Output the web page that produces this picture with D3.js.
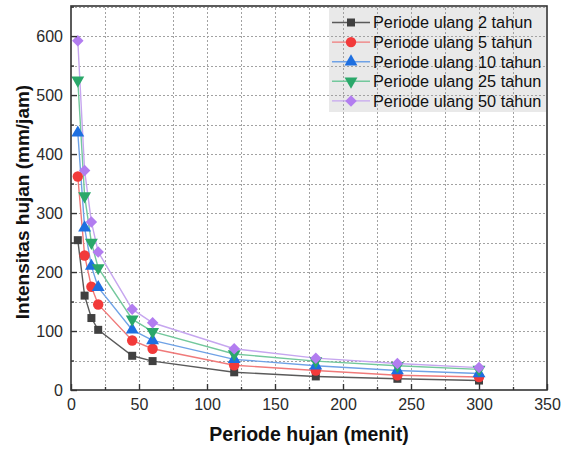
<!DOCTYPE html>
<html>
<head>
<meta charset="utf-8">
<script src="https://cdn.jsdelivr.net/npm/d3@7"></script>
<style>
  body { margin: 0; background: #fff; }
  svg { display: block; font-family: "Liberation Sans", Arial, sans-serif; }
</style>
</head>
<body>
<svg id="svg" width="565" height="450"></svg>
<script>
// durasi hujan (menit)
const durations = [5, 10, 15, 20, 45, 60, 120, 180, 240, 300];

const seriesNames = [
  "Periode ulang 2 tahun",
  "Periode ulang 5 tahun",
  "Periode ulang 10 tahun",
  "Periode ulang 25 tahun",
  "Periode ulang 50 tahun"
];

const pu2  = [254, 160, 122, 102, 58, 49, 30, 23, 19, 16];
const pu5  = [362, 228, 175, 145, 84, 70, 42, 33, 25, 22];
const pu10 = [436, 275, 210, 174, 102, 84, 52, 41, 33, 28];
const pu25 = [525, 329, 250, 207, 120, 99, 61, 49, 41, 35];
const pu50 = [592, 372, 285, 234, 137, 114, 70, 54, 45, 38];

const xTicks = [0, 50, 100, 150, 200, 250, 300, 350];
const yTicks = [0, 100, 200, 300, 400, 500, 600];

const allSeries = [pu2, pu5, pu10, pu25, pu50];
const markerColors = ["#404040", "#f23a3a", "#1e6fe0", "#2aa86a", "#b27df0"];
const lineColors   = ["#5a5a5a", "#f07a7a", "#6fa2e6", "#73c89c", "#c6a6ef"];
const symbols = ["square", "circle", "triangle", "triangleDown", "diamond"];

const margin = { left: 71, top: 6, right: 18, bottom: 60 };
const W = 565, H = 450;
const svg = d3.select("#svg");

const x = d3.scaleLinear().domain([0, 350]).range([margin.left, W - margin.right]);
const y = d3.scaleLinear().domain([0, 651]).range([H - margin.bottom, margin.top]);
const snap = v => Math.round(v) + 0.5;

// legend background under the grid
svg.append("rect")
  .attr("x", 329).attr("y", 7).attr("width", 217).attr("height", 105)
  .attr("fill", "#e9e9e9");

// grid (garis putus-putus)
const grid = svg.append("g").attr("stroke", "#a2a2a2").attr("stroke-width", 1)
  .attr("stroke-dasharray", "2,2");
grid.selectAll("line.gx").data(d3.range(25, 350, 25)).join("line")
  .attr("class", "gx")
  .attr("x1", d => snap(x(d))).attr("x2", d => snap(x(d)))
  .attr("y1", y.range()[0]).attr("y2", y.range()[1]);
grid.selectAll("line.gy").data(d3.range(50, 651, 50)).join("line")
  .attr("class", "gy")
  .attr("x1", x.range()[0]).attr("x2", x.range()[1])
  .attr("y1", d => snap(y(d))).attr("y2", d => snap(y(d)));

function symbolPath(k) {
  const s = symbols[k];
  if (s === "square") return d3.symbol(d3.symbolSquare, 64)();
  if (s === "circle") return d3.symbol(d3.symbolCircle, 85)();
  if (s === "triangle") return d3.symbol(d3.symbolTriangle, 72)();
  if (s === "triangleDown") return d3.symbol(d3.symbolTriangle, 72)();
  return d3.symbol(d3.symbolSquare, 66)();
}
function symbolRotate(k) {
  if (symbols[k] === "triangleDown") return " rotate(180)";
  if (symbols[k] === "diamond") return " rotate(45)";
  return "";
}

const line = d3.line().x(d => x(d[0])).y(d => y(d[1]));

allSeries.forEach((vals, k) => {
  const pts = durations.map((d, i) => [d, vals[i]]);
  svg.append("path").datum(pts)
    .attr("d", line).attr("fill", "none")
    .attr("stroke", lineColors[k]).attr("stroke-width", 1.4);
});
allSeries.forEach((vals, k) => {
  const pts = durations.map((d, i) => [d, vals[i]]);
  svg.append("g").selectAll("path").data(pts).join("path")
    .attr("d", symbolPath(k))
    .attr("transform", d => `translate(${x(d[0])},${y(d[1])})${symbolRotate(k)}`)
    .attr("fill", markerColors[k]);
});

// legend entries
const legend = svg.append("g");
seriesNames.forEach((name, k) => {
  const ly = 22.5 + k * 19.6;
  legend.append("line").attr("x1", 332).attr("x2", 370).attr("y1", ly).attr("y2", ly)
    .attr("stroke", lineColors[k]).attr("stroke-width", 1.4);
  legend.append("path").attr("d", symbolPath(k))
    .attr("transform", `translate(351,${ly})${symbolRotate(k)}`)
    .attr("fill", markerColors[k]);
  legend.append("text").attr("x", 373).attr("y", ly).attr("dy", "0.36em")
    .attr("font-size", 16.3).attr("fill", "#111").text(name);
});

// frame
svg.append("rect")
  .attr("x", x.range()[0]).attr("y", y.range()[1])
  .attr("width", x.range()[1] - x.range()[0]).attr("height", y.range()[0] - y.range()[1])
  .attr("fill", "none").attr("stroke", "#333").attr("stroke-width", 1.6);

// axes with inward ticks
const xAxis = svg.append("g").attr("transform", `translate(0,${y.range()[0]})`)
  .call(d3.axisBottom(x).tickValues(xTicks).tickSize(-6).tickPadding(9));
xAxis.append("g").call(d3.axisBottom(x).tickValues(d3.range(25, 350, 50)).tickSize(-3).tickFormat(""));
const yAxis = svg.append("g").attr("transform", `translate(${x.range()[0]},0)`)
  .call(d3.axisLeft(y).tickValues(yTicks).tickSize(-6).tickPadding(8));
yAxis.append("g").call(d3.axisLeft(y).tickValues(d3.range(50, 651, 100)).tickSize(-3).tickFormat(""));

[xAxis, yAxis].forEach(a => {
  a.selectAll(".domain").remove();
  a.selectAll("line").attr("stroke", "#333").attr("stroke-width", 1.4);
  a.selectAll("text").attr("font-size", 16).attr("fill", "#2a2a2a")
    .attr("font-family", "Liberation Sans, Arial, sans-serif");
});

// axis titles
svg.append("text").attr("x", x(0) + (x(350) - x(0)) / 2).attr("y", 441)
  .attr("text-anchor", "middle").attr("font-size", 19.5).attr("font-weight", "bold")
  .attr("fill", "#111").text("Periode hujan (menit)");
svg.append("text").attr("transform", `translate(29,${(y(0) + y(651)) / 2 + 4}) rotate(-90)`)
  .attr("text-anchor", "middle").attr("font-size", 19).attr("font-weight", "bold")
  .attr("fill", "#111").text("Intensitas hujan (mm/jam)");
</script>
</body>
</html>
